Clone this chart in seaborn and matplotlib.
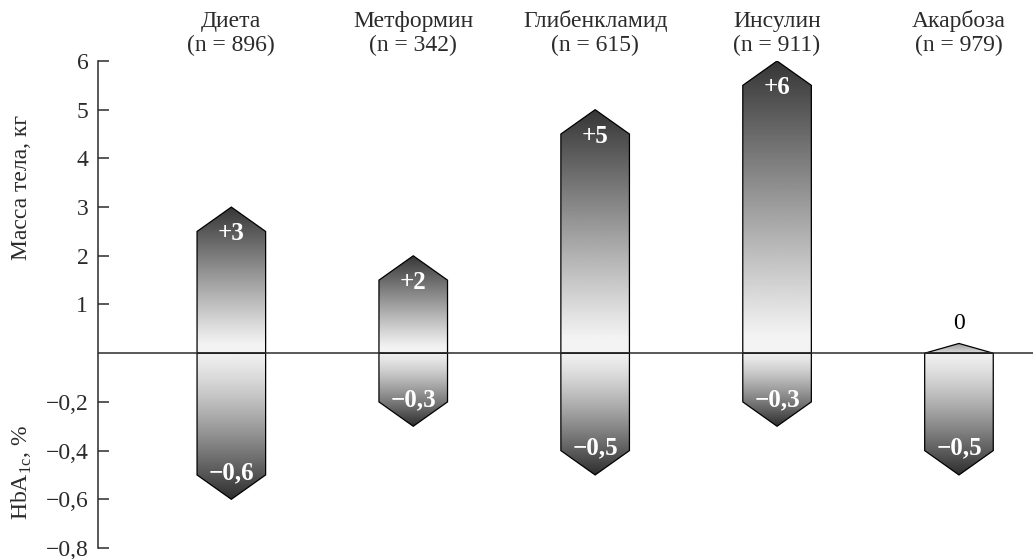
import numpy as np
import pandas as pd
import matplotlib
matplotlib.use("Agg")
import matplotlib.pyplot as plt
from matplotlib.patches import Polygon
import seaborn as sns

# Treatment groups, group sizes and mean changes
groups = ["Диета", "Метформин", "Глибенкламид", "Инсулин", "Акарбоза"]
group_n = [896, 342, 615, 911, 979]
weight_change = [3, 2, 5, 6, 0]          # kg
hba1c_change = [-0.6, -0.3, -0.5, -0.3, -0.5]  # %

# Lower half shares the axis: 0.2 % of HbA1c occupies the same height as 1 kg
HBA1C_SCALE = 5.0
weight_ticks = [1, 2, 3, 4, 5, 6]
hba1c_ticks = [-0.2, -0.4, -0.6, -0.8]

sns.set_theme(style="white")
plt.rcParams["font.family"] = ["Liberation Serif", "DejaVu Serif"]
plt.rcParams["mathtext.fontset"] = "custom"
plt.rcParams["mathtext.rm"] = "Liberation Serif"

FS = 17
TIP = 0.5
INK = "#2b2b2b"
MINUS = "\u2212"

fig = plt.figure(figsize=(10.33, 5.59), dpi=100)
ax = fig.add_axes([98 / 1033, 11 / 559, 1 - 98 / 1033, (548 - 61) / 559])

df_up = pd.DataFrame({"group": groups, "value": weight_change})
df_lo = pd.DataFrame({"group": groups, "value": [v * HBA1C_SCALE for v in hba1c_change]})

n0 = len(ax.patches)
sns.barplot(data=df_up, x="group", y="value", order=groups, width=0.377,
            errorbar=None, ax=ax, color="white")
up_bars = ax.patches[n0:]
n1 = len(ax.patches)
sns.barplot(data=df_lo, x="group", y="value", order=groups, width=0.377,
            errorbar=None, ax=ax, color="white")
lo_bars = ax.patches[n1:]


def upper_shade(f):
    return np.where(f < 0.06, 0.95, 0.95 - 0.74 * ((f - 0.06) / 0.94) ** 1.05)


def lower_shade(f):
    return 0.94 - 0.76 * f ** 1.25


def arrow_shape(bar, upward):
    x0 = bar.get_x()
    w = bar.get_width()
    x1 = x0 + w
    xc = x0 + w / 2
    ya = bar.get_y()
    yb = ya + bar.get_height()
    lo, hi = min(ya, yb), max(ya, yb)
    if upward:
        if hi <= 0:
            tip = 0.2
            return [(x0, 0), (xc, tip), (x1, 0)], tip
        base = hi - TIP
        return [(x0, 0), (x0, base), (xc, hi), (x1, base), (x1, 0)], hi
    base = lo + TIP
    return [(x0, 0), (x0, base), (xc, lo), (x1, base), (x1, 0)], lo


for bars, upward in ((up_bars, True), (lo_bars, False)):
    for bar in bars:
        bar.set_visible(False)
        verts, extreme = arrow_shape(bar, upward)
        poly = Polygon(verts, closed=True, facecolor="none", edgecolor="black",
                       linewidth=0.9, zorder=3)
        ax.add_patch(poly)
        f = np.linspace(0, 1, 256)
        if upward and bar.get_height() == 0:
            shade = 0.85 - 0.25 * f
        elif upward:
            shade = upper_shade(f)
        else:
            shade = lower_shade(f)
        x0, w = bar.get_x(), bar.get_width()
        if upward:
            img = shade[:, None]
            ext = [x0, x0 + w, 0, extreme]
        else:
            img = shade[::-1][:, None]
            ext = [x0, x0 + w, extreme, 0]
        im = ax.imshow(img, extent=ext, origin="lower", cmap="gray", vmin=0, vmax=1,
                       aspect="auto", interpolation="bilinear", zorder=2)
        im.set_clip_path(poly)


def fmt(v):
    s = f"{abs(v):g}".replace(".", ",")
    return (MINUS + s) if v < 0 else s


# Value labels inside the arrow heads
for i, v in enumerate(weight_change):
    if v > 0:
        ax.text(i, v - 0.55, f"+{v:g}", ha="center", va="center", color="white",
                fontsize=18, fontweight="bold", zorder=4)
    else:
        ax.text(i, 0.6, f"{v:g}", ha="center", va="center", color="black",
                fontsize=FS, zorder=4)
for i, v in enumerate(hba1c_change):
    ax.text(i, v * HBA1C_SCALE + 0.55, fmt(v), ha="center", va="center", color="white",
            fontsize=18, fontweight="bold", zorder=4)

# Group headers
for i, (g, n) in enumerate(zip(groups, group_n)):
    ax.text(i, 6.57, f"{g}\n(n = {n})", ha="center", va="center", fontsize=FS,
            linespacing=1.2, color=INK, clip_on=False)

ax.axhline(0, color=INK, linewidth=1.1, zorder=5)

ax.set_xlim(-0.733, 4.407)
ax.set_ylim(-4, 6)
ax.set_xlabel("")
ax.set_ylabel("")
ax.set_xticks([])

ticks = [t * HBA1C_SCALE for t in hba1c_ticks] + weight_ticks
labels = [fmt(t) for t in hba1c_ticks] + [str(t) for t in weight_ticks]
ax.set_yticks(ticks)
ax.set_yticklabels(labels)
ax.tick_params(axis="y", direction="in", length=8, width=1.1, pad=7,
               labelsize=FS, colors=INK, left=True)

for side in ("top", "right", "bottom"):
    ax.spines[side].set_visible(False)
ax.spines["left"].set_color(INK)
ax.spines["left"].set_linewidth(1.1)
ax.set_facecolor("white")
fig.patch.set_facecolor("white")

fig.text(22 / 1033, (559 - 188) / 559, "Масса тела, кг", rotation=90,
         ha="center", va="center", fontsize=FS, color=INK)
fig.text(22 / 1033, (559 - 472) / 559, r"HbA$_\mathregular{1c}$, %", rotation=90,
         ha="center", va="center", fontsize=FS, color=INK)

fig.savefig("out.png", dpi=100)
